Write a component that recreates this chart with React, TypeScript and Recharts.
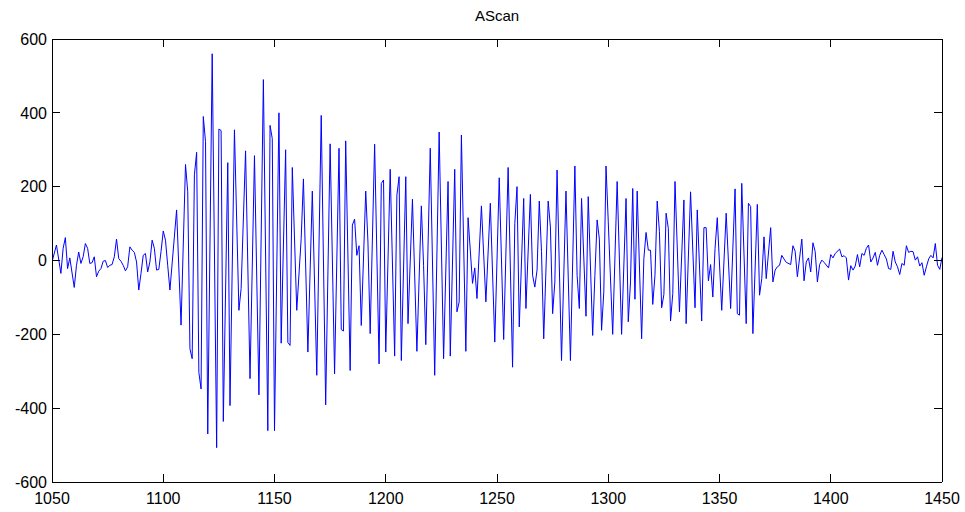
import React from 'react';
import { LineChart, Line, XAxis, YAxis } from 'recharts';

const chartTitle = 'AScan';

const sampleIndex = [
  1050, 1052, 1054, 1055, 1056, 1057, 1058, 1060, 1061, 1062, 1063, 1064, 1065, 1066, 1067, 1068, 1069, 1070,
  1071, 1072, 1073, 1074, 1075, 1076, 1077, 1078, 1079, 1080, 1081, 1082, 1083, 1084, 1085, 1086, 1087, 1088,
  1089, 1090, 1091, 1092, 1093, 1094,
  1095, 1096, 1097, 1098, 1099, 1100, 1101, 1102, 1103, 1106, 1108, 1110, 1111, 1112, 1113, 1114, 1115, 1116,
  1117, 1118, 1119, 1120, 1122, 1124, 1125, 1126, 1127, 1129, 1130, 1132,
  1134, 1135, 1137, 1139, 1141, 1143, 1145, 1147, 1148, 1149, 1150, 1152, 1153, 1155, 1156, 1157, 1158, 1160,
  1162, 1163, 1165, 1167, 1169, 1171, 1173, 1175,
  1177, 1179, 1180, 1181, 1182, 1184, 1185, 1186, 1187, 1188, 1189, 1191, 1192, 1193, 1195, 1197, 1198, 1199,
  1200, 1202, 1204, 1205, 1206, 1207, 1209, 1210, 1212, 1214,
  1216, 1217, 1218, 1220, 1222, 1224, 1226, 1228, 1229, 1231, 1232, 1233, 1234, 1236, 1237, 1239, 1240, 1241,
  1243, 1245, 1247, 1249, 1251, 1253, 1255,
  1257, 1258, 1259, 1260, 1262, 1263, 1265, 1266, 1267, 1268, 1269, 1270, 1271, 1273, 1274, 1275, 1276, 1277,
  1279, 1281, 1283, 1285, 1286, 1287, 1288, 1290, 1291, 1293, 1294,
  1295, 1296, 1297, 1298, 1299, 1300, 1302, 1304, 1306, 1308, 1309, 1310, 1311, 1312, 1313, 1315, 1316, 1317,
  1318, 1319, 1320, 1321, 1322, 1323, 1324, 1325, 1326, 1327, 1328, 1329, 1330, 1332, 1334, 1335, 1337,
  1339, 1340, 1342, 1343, 1344, 1345, 1346, 1347, 1348, 1349, 1351, 1353, 1355, 1357, 1358, 1359, 1360, 1362,
  1363, 1364, 1365, 1367, 1368, 1369, 1370, 1371, 1373, 1374,
  1375, 1376, 1377, 1378, 1379, 1380, 1382, 1383, 1384, 1385, 1387, 1388, 1389, 1390, 1391, 1392, 1393, 1394,
  1395, 1396, 1397, 1399, 1400, 1401, 1402, 1404, 1405, 1406, 1407, 1408, 1409, 1410, 1411, 1412, 1413, 1414,
  1415, 1416, 1417, 1418, 1419, 1420, 1421, 1422, 1423, 1424, 1425, 1426, 1427, 1428, 1429, 1430, 1431, 1432,
  1433, 1434, 1435, 1436, 1437, 1438, 1439, 1440, 1441, 1442, 1443, 1444, 1445, 1446, 1447, 1448, 1449, 1450,
];

const amplitude = [
  -4, 42, -35, 33, 62, -22, 7, -73, -13, 23, -8, 10, 46, 33, -8, -6, 10, -44,
  -29, -22, -2, 0, -19, -13, -11, 10, 58, 5, -2, -13, -28, -17, 37, 28, 22, -4,
  -80, -35, 14, 19, -31, -4,
  55, 33, -26, -24, 24, 80, 55, -13, -80, 137, -175, 260, 186, -239, -266, 232, 293, -303,
  -348, 390, 322, -470, 560, -507, 356, 352, -436, 265, -393, 354,
  -135, -76, 297, -320, 284, -364, 490, -461, 366, 330, -461, 400, -224, 300, -222, -230, 252, -135,
  60, 221, -248, 188, -311, 393, -391, 316,
  -307, 304, -187, -191, 324, -298, 96, 112, 14, 40, -176, 188, 50, -198, 315, -280, 209, 218,
  -248, 247, -259, 177, 227, -271, 227, -171, 166, -246,
  148, -13, -228, 304, -311, 348, -266, 214, -259, 247, -139, -112, 340, -246, 116, -62, -20, -103,
  148, -112, 155, -221, 224, -214, 252,
  -289, 100, 200, -180, 168, -130, 179, -40, -72, -26, 161, 24, -212, 161, 91, -144, -58, 245,
  -271, 188, -271, 256, -40, -130, 168, -151, 173, -203, -40,
  110, 58, -189, -85, 256, 105, -200, 214, -200, 168, -166, -58, 195, -105, 188, -212, 5, 76,
  28, 28, -119, -40, 161, 78, -128, -92, 128, 87, -164, -90, 214, -139, 164, -171, 186,
  -128, 137, -164, 89, 89, -55, -11, -99, 33, 116, -135, 128, -130, 194, -144, -148, 209, -171,
  155, 146, -198, 152, -94, -49, 64, -49, 89, -58,
  -26, -17, -13, 14, 4, -5, -11, 40, 25, -44, 58, -55, -4, 7, -31, 48, 24, -58,
  -11, 1, -5, -20, 16, 7, 19, 31, 10, 13, 7, -53, -14, -26, -15, 16, -17, 19,
  14, 33, 42, -4, 7, 22, -13, 14, 28, 16, 4, -22, -24, 25, -4, -17, -38, -8,
  -13, 40, 22, 25, 24, 1, 10, -15, -6, -40, -17, 4, 14, 7, 46, -13, -24, 8,
];

const xTicks = [1050, 1100, 1150, 1200, 1250, 1300, 1350, 1400, 1450];
const yTicks = [-600, -400, -200, 0, 200, 400, 600];

const data = sampleIndex.map((t, i) => ({ t, v: amplitude[i] }));

const FONT = '"Liberation Sans", Arial, Helvetica, sans-serif';
const TICK_LEN = 8;
const LABEL_SIZE = 16;

const LeftTick = (props: any) => {
  const { x, y, payload } = props;
  return (
    <g>
      <line x1={x} y1={y} x2={x + TICK_LEN} y2={y} stroke="#000" shapeRendering="crispEdges" />
      <text x={x - 5} y={y} dy="0.36em" textAnchor="end" fontFamily={FONT} fontSize={LABEL_SIZE} fill="#000">
        {payload.value}
      </text>
    </g>
  );
};

const RightTick = (props: any) => {
  const { x, y } = props;
  return <line x1={x} y1={y} x2={x - TICK_LEN} y2={y} stroke="#000" shapeRendering="crispEdges" />;
};

const BottomTick = (props: any) => {
  const { x, y, payload } = props;
  return (
    <g>
      <line x1={x} y1={y} x2={x} y2={y - TICK_LEN} stroke="#000" shapeRendering="crispEdges" />
      <text x={x} y={y + 22} textAnchor="middle" fontFamily={FONT} fontSize={LABEL_SIZE} fill="#000">
        {payload.value}
      </text>
    </g>
  );
};

const TopTick = (props: any) => {
  const { x, y } = props;
  return <line x1={x} y1={y} x2={x} y2={y + TICK_LEN} stroke="#000" shapeRendering="crispEdges" />;
};

const axisLineStyle = { stroke: '#000', shapeRendering: 'crispEdges' } as any;

export default function App() {
  return (
    <div style={{ position: 'absolute', left: 0, top: 0, width: 965, height: 512, background: '#fff' }}>
      <div
        style={{
          position: 'absolute',
          left: 397,
          width: 200,
          top: 7,
          textAlign: 'center',
          fontFamily: FONT,
          fontSize: 15,
          color: '#000',
          lineHeight: '18px',
        }}
      >
        {chartTitle}
      </div>
      <LineChart
        width={965}
        height={512}
        data={data}
        margin={{ top: 38, right: 22, bottom: 29, left: 51 }}
      >
        <XAxis
          xAxisId="bottom"
          dataKey="t"
          type="number"
          domain={[1050, 1450]}
          ticks={xTicks}
          orientation="bottom"
          height={1}
          tickSize={0}
          tickMargin={0}
          tickLine={false}
          axisLine={axisLineStyle}
          tick={<BottomTick />}
          interval={0}
          allowDataOverflow
        />
        <XAxis
          xAxisId="top"
          dataKey="t"
          type="number"
          domain={[1050, 1450]}
          ticks={xTicks}
          orientation="top"
          height={1}
          tickSize={0}
          tickMargin={0}
          tickLine={false}
          axisLine={axisLineStyle}
          tick={<TopTick />}
          interval={0}
          allowDataOverflow
        />
        <YAxis
          yAxisId="left"
          type="number"
          domain={[-600, 600]}
          ticks={yTicks}
          orientation="left"
          width={1}
          tickSize={0}
          tickMargin={0}
          tickLine={false}
          axisLine={axisLineStyle}
          tick={<LeftTick />}
          interval={0}
          allowDataOverflow
        />
        <YAxis
          yAxisId="right"
          type="number"
          domain={[-600, 600]}
          ticks={yTicks}
          orientation="right"
          width={1}
          tickSize={0}
          tickMargin={0}
          tickLine={false}
          axisLine={axisLineStyle}
          tick={<RightTick />}
          interval={0}
          allowDataOverflow
        />
        <Line
          xAxisId="bottom"
          yAxisId="left"
          type="linear"
          dataKey="v"
          stroke="#0000ff"
          strokeWidth={1}
          dot={false}
          activeDot={false}
          isAnimationActive={false}
        />
      </LineChart>
    </div>
  );
}
